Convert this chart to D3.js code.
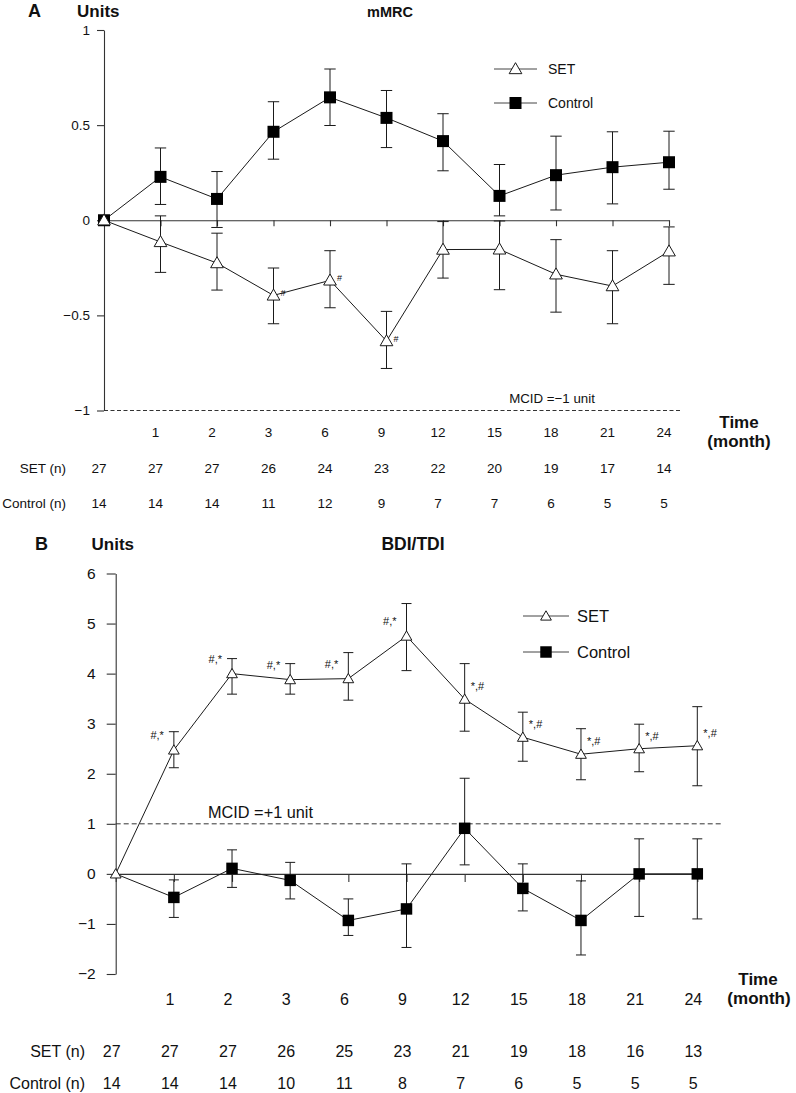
<!DOCTYPE html>
<html><head><meta charset="utf-8">
<script src="https://cdn.jsdelivr.net/npm/d3@7"></script>
<style>
body{margin:0;background:#fff}
svg{display:block}
text{font-family:"Liberation Sans",Arial,Helvetica,sans-serif;fill:#111}
</style>
</head><body>
<svg id="c" width="796" height="1093"></svg>
<script>
// ---------- DATA ----------
const months = ["0","1","2","3","6","9","12","15","18","21","24"];

// Panel A : mMRC
const mmrcSET     = [0, -0.114, -0.225, -0.395, -0.316, -0.635, -0.154, -0.153, -0.284, -0.346, -0.163];
const mmrcSETHi   = [null, 0.023, -0.068, -0.251, -0.160, -0.479, -0.007, -0.004, -0.102, -0.160, -0.035];
const mmrcSETLo   = [null, -0.274, -0.367, -0.544, -0.460, -0.779, -0.304, -0.365, -0.483, -0.544, -0.337];
const mmrcCtl     = [0, 0.228, 0.112, 0.465, 0.646, 0.538, 0.416, 0.128, 0.237, 0.279, 0.305];
const mmrcCtlHi   = [null, 0.380, 0.256, 0.623, 0.795, 0.682, 0.560, 0.293, 0.442, 0.465, 0.468];
const mmrcCtlLo   = [null, 0.083, -0.038, 0.321, 0.498, 0.382, 0.260, 0.023, 0.054, 0.086, 0.163];
const mmrcSETn    = [27, 27, 27, 26, 24, 23, 22, 20, 19, 17, 14];
const mmrcCtln    = [14, 14, 14, 11, 12, 9, 7, 7, 6, 5, 5];
const mmrcYTicks  = [-1, -0.5, 0, 0.5, 1];
const mmrcNotes   = ["", "", "", "#", "#", "#", "", "", "", "", ""];

// Panel B : BDI/TDI
const bdiSET      = [0, 2.475, 4.00, 3.88, 3.90, 4.75, 3.49, 2.73, 2.39, 2.50, 2.56];
const bdiSETHi    = [null, 2.84, 4.30, 4.20, 4.42, 5.40, 4.20, 3.23, 2.90, 2.99, 3.34];
const bdiSETLo    = [null, 2.12, 3.59, 3.59, 3.47, 4.06, 2.85, 2.25, 1.88, 2.04, 1.76];
const bdiCtl      = [0, -0.47, 0.11, -0.13, -0.93, -0.70, 0.91, -0.29, -0.93, 0.00, 0.00];
const bdiCtlHi    = [null, -0.12, 0.48, 0.23, -0.50, 0.20, 1.91, 0.20, -0.14, 0.70, 0.70];
const bdiCtlLo    = [null, -0.87, -0.27, -0.50, -1.23, -1.47, 0.18, -0.74, -1.62, -0.85, -0.90];
const bdiSETn     = [27, 27, 27, 26, 25, 23, 21, 19, 18, 16, 13];
const bdiCtln     = [14, 14, 14, 10, 11, 8, 7, 6, 5, 5, 5];
const bdiYTicks   = [-2, -1, 0, 1, 2, 3, 4, 5, 6];
const bdiNotesL   = ["", "#,*", "#,*", "#,*", "#,*", "#,*", "", "", "", "", ""];
const bdiNotesR   = ["", "", "", "", "", "", "*,#", "*,#", "*,#", "*,#", "*,#"];

// ---------- LAYOUT ----------
const svg = d3.select("#c");
const INK = "#1a1a1a";

function drawPanel(cfg, d) {
  const g = svg.append("g");
  const x = d3.scalePoint().domain(months).range([cfg.x0, cfg.x1]);
  const y = d3.scaleLinear().domain(cfg.yDomain).range([cfg.yBottom, cfg.yTop]);

  // headers
  g.append("text").attr("x", cfg.letterX).attr("y", cfg.headY).attr("font-size", 18).attr("font-weight", "bold").text(cfg.letter);
  g.append("text").attr("x", cfg.unitsX).attr("y", cfg.headY).attr("font-size", 17).attr("font-weight", "bold").text("Units");
  g.append("text").attr("x", cfg.titleX).attr("y", cfg.headY).attr("text-anchor", "middle")
    .attr("font-size", cfg.titleSize).attr("font-weight", "bold").text(cfg.title);

  // MCID dashed line
  g.append("line").attr("x1", cfg.x0).attr("x2", cfg.x1 + cfg.dashExt)
    .attr("y1", y(cfg.mcid)).attr("y2", y(cfg.mcid))
    .attr("stroke", "#333").attr("stroke-width", 1).attr("stroke-dasharray", cfg.dash);
  g.append("text").attr("x", cfg.mcidX).attr("y", cfg.mcidY).attr("text-anchor", cfg.mcidAnchor)
    .attr("font-size", cfg.mcidSize).text(cfg.mcidText);

  // y axis
  const ya = g.append("g").attr("transform", `translate(${cfg.x0},0)`)
    .call(d3.axisLeft(y).tickValues(d.yTicks).tickSize(cfg.yTickLen).tickSizeOuter(0)
      .tickPadding(cfg.yPad).tickFormat(d3.format("~g")));
  ya.selectAll("path,line").attr("stroke", "#333").attr("stroke-width", 1.1);
  ya.selectAll("text").attr("font-size", cfg.yFont).attr("fill", "#111")
    .attr("font-family", '"Liberation Sans",Arial,sans-serif');

  // zero line with downward ticks
  const za = g.append("g").attr("transform", `translate(0,${y(0)})`)
    .call(d3.axisBottom(x).tickSize(cfg.xTickLen).tickSizeOuter(0).tickFormat(""));
  za.selectAll("path,line").attr("stroke", "#333").attr("stroke-width", 1.1);

  // x tick labels
  g.append("g").selectAll("text").data(months.slice(1)).join("text")
    .attr("x", m => x(m) + cfg.colShift).attr("y", cfg.xLabY).attr("text-anchor", "middle")
    .attr("font-size", cfg.xFont).text(m => m);
  g.append("text").attr("x", cfg.timeX).attr("y", cfg.xLabY - cfg.timeUp).attr("text-anchor", "middle")
    .attr("font-size", 17).attr("font-weight", "bold").text("Time");
  g.append("text").attr("x", cfg.timeX + cfg.monthShift).attr("y", cfg.xLabY - cfg.timeUp + 19).attr("text-anchor", "middle")
    .attr("font-size", 17).attr("font-weight", "bold").text("(month)");

  // n table
  [[ "SET (n)", d.setN, cfg.row1Y ], [ "Control (n)", d.ctlN, cfg.row2Y ]].forEach(([lab, arr, yy]) => {
    g.append("text").attr("x", cfg.rowLabX).attr("y", yy).attr("text-anchor", "end")
      .attr("font-size", cfg.xFont).text(lab);
    g.append("g").selectAll("text").data(arr).join("text")
      .attr("x", (v, i) => x(months[i]) + cfg.colShift).attr("y", yy).attr("text-anchor", "middle")
      .attr("font-size", cfg.xFont).text(v => v);
  });

  const line = d3.line().x((v, i) => x(months[i])).y(v => y(v));
  // series lines
  g.append("path").datum(d.ctl).attr("d", line).attr("fill", "none").attr("stroke", INK).attr("stroke-width", 1);
  g.append("path").datum(d.set).attr("d", line).attr("fill", "none").attr("stroke", INK).attr("stroke-width", 1);

  // error bars
  function errBars(hi, lo) {
    const idx = d3.range(hi.length).filter(i => hi[i] != null);
    const eg = g.append("g").attr("stroke", INK).attr("stroke-width", 1);
    eg.selectAll("line.v").data(idx).join("line")
      .attr("x1", i => x(months[i])).attr("x2", i => x(months[i]))
      .attr("y1", i => y(hi[i])).attr("y2", i => y(lo[i]));
    [hi, lo].forEach(arr => {
      eg.append("g").selectAll("line").data(idx).join("line")
        .attr("x1", i => x(months[i]) - cfg.cap).attr("x2", i => x(months[i]) + cfg.cap)
        .attr("y1", i => y(arr[i])).attr("y2", i => y(arr[i]));
    });
  }
  errBars(d.ctlHi, d.ctlLo);
  errBars(d.setHi, d.setLo);

  // markers
  const sq = d3.symbol().type(d3.symbolSquare).size(cfg.sqSize);
  const tri = d3.symbol().type(d3.symbolTriangle).size(cfg.triSize);
  const ctlIdx = d3.range(d.ctl.length).filter(i => i > 0 || cfg.ctlAtZero);
  g.append("g").selectAll("path").data(ctlIdx).join("path")
    .attr("d", sq).attr("transform", i => `translate(${x(months[i])},${y(d.ctl[i])})`)
    .attr("fill", "#000");
  g.append("g").selectAll("path").data(d.set).join("path")
    .attr("d", tri).attr("transform", (v, i) => `translate(${x(months[i])},${y(v) + 1})`)
    .attr("fill", "#fff").attr("stroke", INK).attr("stroke-width", 1);

  // significance notes
  if (d.notesR) g.append("g").selectAll("text").data(d.notesR).join("text")
    .attr("x", (v, i) => x(months[i]) + cfg.noteRdx).attr("y", (v, i) => y(d.set[i]) + cfg.noteRdy)
    .attr("font-size", cfg.noteSize).text(v => v);
  if (d.notesL) g.append("g").selectAll("text").data(d.notesL).join("text")
    .attr("x", (v, i) => x(months[i]) + cfg.noteLdx).attr("y", (v, i) => y(d.set[i]) + cfg.noteLdy)
    .attr("text-anchor", "end").attr("font-size", cfg.noteSize).text(v => v);

  // legend
  const L = cfg.legend;
  [["SET", tri, "#fff", L.y1], ["Control", sq, "#000", L.y2]].forEach(([lab, sym, fill, yy]) => {
    g.append("line").attr("x1", L.x1).attr("x2", L.x2).attr("y1", yy).attr("y2", yy)
      .attr("stroke", "#444").attr("stroke-width", 1);
    g.append("path").attr("d", sym).attr("transform", `translate(${(L.x1 + L.x2) / 2},${yy + (fill === "#fff" ? 1 : 0)})`)
      .attr("fill", fill).attr("stroke", fill === "#fff" ? INK : "none");
    g.append("text").attr("x", L.tx).attr("y", yy + L.size * 0.36).attr("font-size", L.size).text(lab);
  });
}

drawPanel({
  letter: "A", letterX: 28, unitsX: 77, headY: 16.5, title: "mMRC", titleX: 390, titleSize: 14.5,
  x0: 104, x1: 669, yTop: 30, yBottom: 410.5, yDomain: [-1, 1],
  yTickLen: 7, yPad: 7, yFont: 13.5, xTickLen: 6, xFont: 13.5, colShift: -5,
  xLabY: 436.5, timeX: 739, timeUp: 8.5, monthShift: 0,
  row1Y: 473, row2Y: 508, rowLabX: 66,
  mcid: -1, dashExt: 11, dash: "4,2.5", mcidText: "MCID =\u22121 unit", mcidX: 552, mcidY: 402.5, mcidAnchor: "middle", mcidSize: 13.3,
  cap: 5.7, sqSize: 144, triSize: 70, ctlAtZero: true,
  noteSize: 9, noteRdx: 7, noteRdy: 1,
  legend: { x1: 494, x2: 537, y1: 69, y2: 103, tx: 548, size: 14 }
}, {
  yTicks: mmrcYTicks, set: mmrcSET, setHi: mmrcSETHi, setLo: mmrcSETLo,
  ctl: mmrcCtl, ctlHi: mmrcCtlHi, ctlLo: mmrcCtlLo, setN: mmrcSETn, ctlN: mmrcCtln,
  notesR: mmrcNotes
});

drawPanel({
  letter: "B", letterX: 35, unitsX: 91.5, headY: 550, title: "BDI/TDI", titleX: 413, titleSize: 17.5,
  x0: 115.7, x1: 697.3, yTop: 573.5, yBottom: 974, yDomain: [-2, 6],
  yTickLen: 9, yPad: 11, yFont: 15.5, xTickLen: 8, xFont: 16, colShift: -4,
  xLabY: 1005, timeX: 758, timeUp: 20, monthShift: 1,
  row1Y: 1056.5, row2Y: 1089, rowLabX: 85,
  mcid: 1, dashExt: 24, dash: "5,3", mcidText: "MCID =+1 unit", mcidX: 208, mcidY: 817.5, mcidAnchor: "start", mcidSize: 16.3,
  cap: 5, sqSize: 132, triSize: 50, ctlAtZero: false,
  noteSize: 11, noteRdx: 6, noteRdy: -9, noteLdx: -10, noteLdy: -11,
  legend: { x1: 523, x2: 569, y1: 616, y2: 652, tx: 577, size: 16.5 }
}, {
  yTicks: bdiYTicks, set: bdiSET, setHi: bdiSETHi, setLo: bdiSETLo,
  ctl: bdiCtl, ctlHi: bdiCtlHi, ctlLo: bdiCtlLo, setN: bdiSETn, ctlN: bdiCtln,
  notesR: bdiNotesR, notesL: bdiNotesL
});
</script>
</body></html>
